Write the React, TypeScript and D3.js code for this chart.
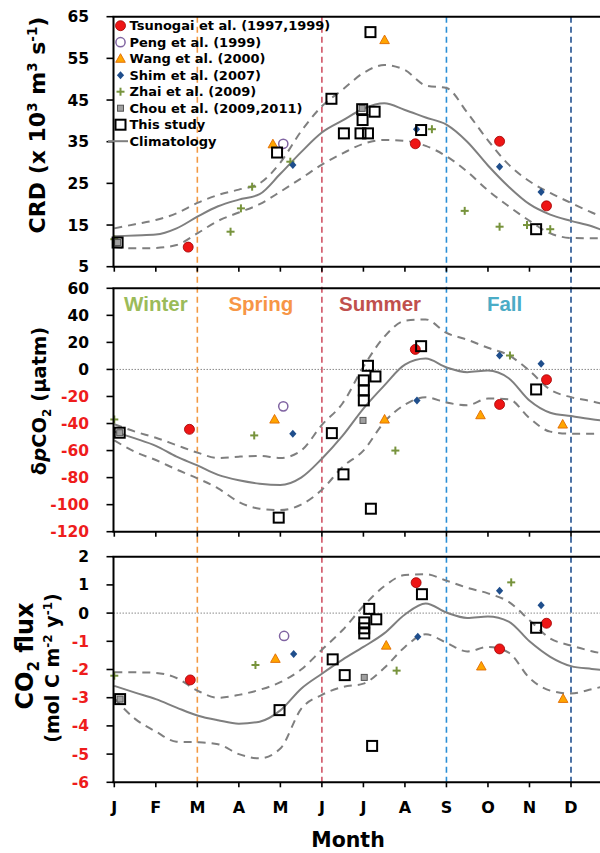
import React from "react";
import * as d3 from "d3";

// ---------- DATA ----------
const monthLabels = ["J", "F", "M", "A", "M", "J", "J", "A", "S", "O", "N", "D"];
const seasonBoundaries = [2, 5, 8, 11];
const seasonLineColors = ["#f29a45", "#d05466", "#2b8fd6", "#22508f"];
const seasonNames = ["Winter", "Spring", "Summer", "Fall"];
const seasonLabelMonths = [1.0, 3.53, 6.4, 9.4];
const seasonColors = ["#9bbb59", "#f79646", "#c0504d", "#4bacc6"];

const climMonths = [0, 0.5, 1, 1.5, 2, 2.5, 3, 3.5, 4, 4.5, 5, 5.5, 6, 6.5, 7, 7.5, 8, 8.5, 9, 9.5, 10, 10.5, 11, 11.5, 11.75];

const crdMean = [12.3, 12.5, 12.7, 14.2, 17.0, 19.5, 21.1, 22.4, 27.3, 32.5, 37.2, 40.1, 42.9, 44.2, 42.6, 40.8, 39.1, 35.0, 29.3, 24.2, 20.0, 17.5, 16.0, 14.7, 13.8];
const crdUpper = [14.2, 15.2, 16.2, 17.8, 20.3, 22.2, 23.5, 25.0, 30.0, 37.5, 43.5, 47.5, 51.5, 53.4, 52.2, 48.5, 47.9, 42.0, 35.3, 29.5, 25.5, 22.7, 20.3, 18.0, 17.0];
const crdLower = [9.7, 9.4, 9.5, 10.2, 13.0, 16.0, 18.0, 20.0, 23.0, 26.2, 29.5, 32.2, 34.5, 35.4, 35.2, 34.0, 31.5, 27.8, 23.3, 19.5, 16.0, 13.0, 11.9, 11.8, 11.8];

const dpMean = [-46, -51, -56.5, -64.5, -71, -78, -82, -84.5, -85.5, -80, -66, -49, -29, -12, 3.5, 8.0, 1.5, -2, -0.8, -6.5, -23, -32, -34.5, -36.8, -37.7];
const dpUpper = [-40.5, -46, -50.5, -56, -61.5, -65.5, -64.5, -64, -65.5, -60, -41, -25, 2, 24, 36, 37, 27, 22, 16, 10.5, -1, -15, -20.5, -23.5, -25.4];
const dpLower = [-52.5, -61, -67, -74, -80.5, -88, -98, -103, -104, -100, -89, -72, -60, -39, -26, -20.5, -24.5, -26.5, -21.5, -22, -36, -46, -47.5, -47.5, -47.5];

const fluxMean = [-2.58, -2.82, -3.05, -3.35, -3.63, -3.8, -3.92, -3.85, -3.45, -2.68, -2.15, -1.65, -1.2, -0.72, -0.05, 0.34, 0.02, -0.17, -0.12, -0.3, -1.0, -1.55, -1.88, -1.98, -2.02];
const fluxUpper = [-2.1, -2.1, -2.12, -2.3, -2.75, -3.0, -2.9, -2.72, -2.45, -2.0, -1.3, -0.6, 0.25, 0.95, 1.35, 1.38, 1.15, 0.9, 0.7, 0.4, -0.25, -0.9, -1.15, -1.35, -1.43];
const fluxLower = [-3.02, -3.75, -4.2, -4.56, -4.58, -4.65, -5.0, -5.15, -4.8, -3.4, -2.9, -2.62, -2.5, -1.95, -1.2, -0.75, -1.05, -1.36, -1.2, -1.4, -2.3, -2.75, -2.85, -2.7, -2.61];

// [month position, value]
const tsunogaiCRD = [[1.78, 9.7], [7.25, 34.5], [9.28, 35.1], [10.41, 19.6]];
const pengCRD = [[4.07, 34.5]];
const wangCRD = [[3.82, 34.4], [6.51, 59.4]];
const shimCRD = [[4.3, 29.4], [7.28, 38.0], [9.28, 29.0], [10.28, 22.9]];
const zhaiCRD = [[0.0, 11.6], [2.8, 13.4], [3.05, 19.0], [3.32, 24.2], [4.24, 30.2], [7.65, 38.0], [8.44, 18.4], [9.28, 14.6], [9.94, 15.0], [10.5, 14.0]];
const chouCRD = [[0.08, 10.8], [5.97, 43.0]];
const studyCRD = [[0.08, 10.8], [3.92, 32.4], [6.17, 61.3], [5.23, 45.3], [5.97, 42.8], [6.27, 42.2], [5.98, 40.2], [5.53, 37.0], [5.93, 37.0], [6.11, 37.0], [7.39, 37.8], [10.16, 14.0]];

const tsunogaiDP = [[1.81, -44.3], [7.25, 14.8], [9.28, -25.9], [10.41, -7.6]];
const pengDP = [[4.07, -27.3]];
const wangDP = [[3.86, -37.0], [6.51, -37.0], [8.82, -33.8], [10.8, -40.7]];
const shimDP = [[4.3, -47.5], [7.29, -22.9], [9.28, 10.3], [10.28, 4.2]];
const zhaiDP = [[0.0, -37], [3.37, -48.8], [6.77, -60], [9.53, 10.3]];
const chouDP = [[0.13, -46.8], [5.99, -37.7]];
const studyDP = [[0.13, -46.8], [3.96, -109.6], [5.24, -47.1], [5.52, -77.6], [6.18, -103], [6.11, 2.7], [6.01, -8.1], [6.29, -5.2], [6.01, -15.5], [6.01, -22.9], [7.39, 17.2], [10.16, -14.8]];

const tsunogaiFlux = [[1.83, -2.37], [7.27, 1.08], [9.28, -1.27], [10.41, -0.36]];
const pengFlux = [[4.09, -0.81]];
const wangFlux = [[3.88, -1.62], [6.55, -1.15], [8.84, -1.89], [10.81, -3.04]];
const shimFlux = [[4.32, -1.45], [7.31, -0.84], [9.28, 0.79], [10.28, 0.28]];
const zhaiFlux = [[0.0, -2.22], [3.4, -1.84], [6.8, -2.04], [9.56, 1.09]];
const chouFlux = [[0.14, -3.05], [6.02, -2.28]];
const studyFlux = [[0.14, -3.05], [3.98, -3.44], [5.26, -1.64], [5.55, -2.2], [6.21, -4.71], [6.14, 0.15], [6.02, -0.33], [6.31, -0.22], [6.02, -0.54], [6.02, -0.72], [7.41, 0.67], [10.16, -0.52]];

const crdTicks = [5, 15, 25, 35, 45, 55, 65];
const dpTicks = [-120, -100, -80, -60, -40, -20, 0, 20, 40, 60];
const fluxTicks = [-6, -5, -4, -3, -2, -1, 0, 1, 2];

const legendLabels = [
  "Tsunogai et al. (1997,1999)",
  "Peng et al. (1999)",
  "Wang et al. (2000)",
  "Shim et al. (2007)",
  "Zhai et al. (2009)",
  "Chou et al. (2009,2011)",
  "This study",
  "Climatology",
];
const legendTypes = ["tsunogai", "peng", "wang", "shim", "zhai", "chou", "study", "clim"];

// ---------- LAYOUT ----------
const W = 600;
const H = 853;
const AXIS_X = 113.5;
const FONT = "'DejaVu Sans', Verdana, sans-serif";

const X = d3.scaleLinear().domain([0, 11]).range([114.3, 571]);

const panels = [
  {
    key: "crd",
    y: d3.scaleLinear().domain([5, 65]).range([266.7, 16.7]),
    ticks: crdTicks,
    mean: crdMean, upper: crdUpper, lower: crdLower,
    zero: false,
    series: { tsunogai: tsunogaiCRD, peng: pengCRD, wang: wangCRD, shim: shimCRD, zhai: zhaiCRD, chou: chouCRD, study: studyCRD },
  },
  {
    key: "dp",
    y: d3.scaleLinear().domain([-120, 60]).range([531.7, 288.3]),
    ticks: dpTicks,
    mean: dpMean, upper: dpUpper, lower: dpLower,
    zero: true,
    series: { tsunogai: tsunogaiDP, peng: pengDP, wang: wangDP, shim: shimDP, zhai: zhaiDP, chou: chouDP, study: studyDP },
  },
  {
    key: "flux",
    y: d3.scaleLinear().domain([-6, 2]).range([782.3, 556.7]),
    ticks: fluxTicks,
    mean: fluxMean, upper: fluxUpper, lower: fluxLower,
    zero: true,
    series: { tsunogai: tsunogaiFlux, peng: pengFlux, wang: wangFlux, shim: shimFlux, zhai: zhaiFlux, chou: chouFlux, study: studyFlux },
  },
];

function Marker({ type, x, y }: { type: string; x: number; y: number }) {
  switch (type) {
    case "tsunogai":
      return <circle cx={x} cy={y} r={5} fill="#ee1515" stroke="#a00000" strokeWidth={0.8} />;
    case "peng":
      return <circle cx={x} cy={y} r={4.6} fill="#fff" stroke="#8064a2" strokeWidth={1.5} />;
    case "wang":
      return (
        <polygon
          points={`${x},${y - 5} ${x - 4.8},${y + 3.6} ${x + 4.8},${y + 3.6}`}
          fill="#ffa500"
          stroke="#e06a00"
          strokeWidth={0.9}
        />
      );
    case "shim":
      return <path d={`M${x},${y - 4}L${x + 3.6},${y}L${x},${y + 4}L${x - 3.6},${y}Z`} fill="#1f4e8c" />;
    case "zhai":
      return (
        <g stroke="#77933c" strokeWidth={2}>
          <line x1={x - 4} x2={x + 4} y1={y} y2={y} />
          <line x1={x} x2={x} y1={y - 4} y2={y + 4} />
        </g>
      );
    case "chou":
      return <rect x={x - 3} y={y - 3} width={6} height={6} fill="#a0a0a0" stroke="#555" strokeWidth={1} />;
    case "study":
      return <rect x={x - 5} y={y - 5} width={10} height={10} fill="none" stroke="#000" strokeWidth={2} />;
    default:
      return null;
  }
}

const drawOrder = ["zhai", "shim", "wang", "peng", "tsunogai", "chou", "study"];

export default function App() {
  const lineGen = (yScale: d3.ScaleLinear<number, number>) =>
    d3
      .line<number>()
      .x((_, i) => X(climMonths[i]))
      .y((d) => yScale(d))
      .curve(d3.curveMonotoneX);

  const topY = 16.7;
  const bottomY = 782.3;

  return (
    <svg
      width={W}
      height={H}
      viewBox={`0 0 ${W} ${H}`}
      style={{ position: "absolute", left: 0, top: 0, background: "#fff" }}
      fontFamily={FONT}
    >
      <rect x={0} y={0} width={W} height={H} fill="#fff" />

      {/* season boundary lines */}
      {seasonBoundaries.map((m, i) => (
        <line
          key={"sb" + i}
          x1={X(m)}
          x2={X(m)}
          y1={topY}
          y2={bottomY}
          stroke={seasonLineColors[i]}
          strokeWidth={1.6}
          strokeDasharray="6,4"
        />
      ))}

      {panels.map((p) => {
        const [y0, y1] = p.y.range();
        const lg = lineGen(p.y);
        return (
          <g key={p.key}>
            {p.zero && (
              <line x1={AXIS_X} x2={W} y1={p.y(0)} y2={p.y(0)} stroke="#8a8a8a" strokeWidth={1} strokeDasharray="1.5,1.5" />
            )}
            <path d={lg(p.upper) || ""} fill="none" stroke="#7f7f7f" strokeWidth={2} strokeDasharray="8,6" />
            <path d={lg(p.lower) || ""} fill="none" stroke="#7f7f7f" strokeWidth={2} strokeDasharray="8,6" />
            <path d={lg(p.mean) || ""} fill="none" stroke="#7f7f7f" strokeWidth={2} />

            {drawOrder.map((t) =>
              (p.series as any)[t].map((d: number[], i: number) => (
                <Marker key={t + i} type={t} x={X(d[0])} y={p.y(d[1])} />
              ))
            )}

            {/* frame */}
            <line x1={AXIS_X - 1} x2={W} y1={y1} y2={y1} stroke="#000" strokeWidth={2} />
            <line x1={AXIS_X - 1} x2={W} y1={y0} y2={y0} stroke="#000" strokeWidth={2} />
            <line x1={AXIS_X} x2={AXIS_X} y1={y1} y2={y0} stroke="#000" strokeWidth={2} />
            {/* x ticks */}
            {monthLabels.map((_, i) => (
              <line key={"xt" + i} x1={X(i)} x2={X(i)} y1={y0} y2={y0 + 5} stroke="#000" strokeWidth={1.6} />
            ))}
            {/* y ticks */}
            {p.ticks.map((t) => (
              <g key={"yt" + t}>
                <line x1={AXIS_X - 7} x2={AXIS_X} y1={p.y(t)} y2={p.y(t)} stroke="#000" strokeWidth={1.6} />
                <text
                  x={89}
                  y={p.y(t)}
                  dy="0.36em"
                  textAnchor="end"
                  fontSize={15.5}
                  fontWeight="bold"
                  fill={p.key !== "crd" && t < 0 ? "#ee1c1c" : "#000"}
                >
                  {t}
                </text>
              </g>
            ))}
          </g>
        );
      })}

      {/* month labels */}
      {monthLabels.map((m, i) => (
        <text key={"ml" + i} x={X(i)} y={812.5} textAnchor="middle" fontSize={16} fontWeight="bold" fill="#000">
          {m}
        </text>
      ))}
      <text x={348} y={847} textAnchor="middle" fontSize={20.5} fontWeight="bold" fill="#000">
        Month
      </text>

      {/* season labels */}
      {seasonNames.map((s, i) => (
        <text
          key={s}
          x={X(seasonLabelMonths[i])}
          y={310.5}
          textAnchor="middle"
          fontSize={20.5}
          fontWeight="bold"
          fontFamily="'Liberation Sans', Arial, sans-serif"
          fill={seasonColors[i]}
        >
          {s}
        </text>
      ))}

      {/* legend */}
      {legendLabels.map((l, i) => {
        const ly = 25.7 + i * 16.5;
        return (
          <g key={l}>
            {legendTypes[i] === "clim" ? (
              <line x1={108} x2={128} y1={ly} y2={ly} stroke="#7f7f7f" strokeWidth={2} />
            ) : (
              <Marker type={legendTypes[i]} x={120.5} y={ly} />
            )}
            <text x={129.5} y={ly} dy="0.36em" fontSize={13} fontWeight="bold" fill="#000">
              {l}
            </text>
          </g>
        );
      })}

      {/* y axis titles */}
      <text transform="translate(37,125) rotate(-90)" textAnchor="middle" dy="0.36em" fontSize={22} fontWeight="bold" fill="#000">
        CRD (x 10<tspan dy="-8" fontSize={13.5}>3</tspan>
        <tspan dy="8"> m</tspan>
        <tspan dy="-8" fontSize={13.5}>3</tspan>
        <tspan dy="8"> s</tspan>
        <tspan dy="-8" fontSize={13.5}>-1</tspan>
        <tspan dy="8">)</tspan>
      </text>
      <text transform="translate(39,401) rotate(-90)" textAnchor="middle" dy="0.36em" fontSize={19.5} fontWeight="bold" fill="#000">
        δ<tspan fontStyle="italic">p</tspan>CO<tspan dy="5" fontSize={12}>2</tspan>
        <tspan dy="-5"> (μatm)</tspan>
      </text>
      <text transform="translate(24,656) rotate(-90)" textAnchor="middle" dy="0.36em" fontSize={24} fontWeight="bold" fill="#000">
        CO<tspan dy="6" fontSize={15}>2</tspan>
        <tspan dy="-6"> flux</tspan>
      </text>
      <text transform="translate(52,668) rotate(-90)" textAnchor="middle" dy="0.36em" fontSize={19} fontWeight="bold" fill="#000">
        (mol C m<tspan dy="-7" fontSize={12}>-2</tspan>
        <tspan dy="7"> y</tspan>
        <tspan dy="-7" fontSize={12}>-1</tspan>
        <tspan dy="7">)</tspan>
      </text>
    </svg>
  );
}
